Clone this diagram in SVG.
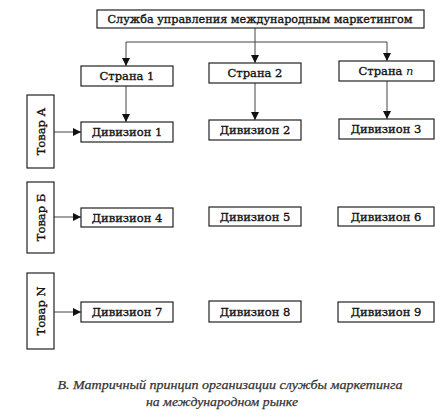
<svg xmlns="http://www.w3.org/2000/svg" width="443" height="417" viewBox="0 0 443 417">
<style>
.box{fill:#fff;stroke:#222;stroke-width:1.2}
.t{font-family:"DejaVu Serif","Liberation Serif",serif;font-size:11.5px;font-weight:normal;fill:#111;text-anchor:middle;stroke:#111;stroke-width:0.35}
.c{stroke:#444;stroke-width:1;fill:none}
.cap{font-family:"Liberation Serif","DejaVu Serif",serif;font-size:13.5px;font-style:italic;fill:#333;text-anchor:middle;stroke:#333;stroke-width:0.25}
</style>
<defs>
<marker id="ah" viewBox="0 0 10 10" refX="10" refY="5" markerWidth="8" markerHeight="8" markerUnits="userSpaceOnUse" orient="auto">
<path d="M0,0 L10,5 L0,10 Z" fill="#111"/>
</marker>
</defs>
<rect width="443" height="417" fill="#fff"/>
<g id="connectors">
<path class="c" d="M255,28 V42"/>
<path class="c" d="M126,42 H387"/>
<path class="c" d="M126,42 V66" marker-end="url(#ah)"/>
<path class="c" d="M255,42 V63" marker-end="url(#ah)"/>
<path class="c" d="M387,42 V61" marker-end="url(#ah)"/>
<path class="c" d="M126,86 V122" marker-end="url(#ah)"/>
<path class="c" d="M255,83 V120" marker-end="url(#ah)"/>
<path class="c" d="M387,81 V119" marker-end="url(#ah)"/>
<path class="c" d="M54,132 H81" marker-end="url(#ah)"/>
<path class="c" d="M54,217 H81" marker-end="url(#ah)"/>
<path class="c" d="M54,312 H81" marker-end="url(#ah)"/>
</g>
<g id="top"><rect class="box" x="97" y="10" width="327" height="18"/><text class="t" x="260" y="23" textLength="305" lengthAdjust="spacingAndGlyphs">Служба управления международным маркетингом</text></g>
<g id="strana1"><rect class="box" x="81" y="66" width="92" height="20"/><text class="t" x="127" y="80">Страна 1</text></g>
<g id="strana2"><rect class="box" x="209" y="63" width="92" height="20"/><text class="t" x="255" y="77">Страна 2</text></g>
<g id="stranan"><rect class="box" x="339" y="61" width="95" height="20"/><text class="t" x="386" y="75">Страна <tspan font-style="italic" stroke-width="0">n</tspan></text></g>
<g id="tovarA"><rect class="box" x="27" y="95" width="27" height="73"/><text class="t" transform="translate(44.5,131.5) rotate(-90)">Товар А</text></g>
<g id="tovarB"><rect class="box" x="27" y="182" width="27" height="71"/><text class="t" transform="translate(44.5,217.5) rotate(-90)">Товар Б</text></g>
<g id="tovarN"><rect class="box" x="27" y="273" width="27" height="76"/><text class="t" transform="translate(44.5,311) rotate(-90)">Товар N</text></g>
<g id="div1"><rect class="box" x="81" y="122" width="92" height="20"/><text class="t" x="127" y="136">Дивизион 1</text></g>
<g id="div2"><rect class="box" x="209" y="120" width="92" height="20"/><text class="t" x="255" y="134">Дивизион 2</text></g>
<g id="div3"><rect class="box" x="339" y="119" width="95" height="20"/><text class="t" x="386" y="133">Дивизион 3</text></g>
<g id="div4"><rect class="box" x="81" y="208" width="92" height="19"/><text class="t" x="127" y="221.5">Дивизион 4</text></g>
<g id="div5"><rect class="box" x="209" y="207" width="92" height="19"/><text class="t" x="255" y="220.5">Дивизион 5</text></g>
<g id="div6"><rect class="box" x="338" y="207" width="96" height="19"/><text class="t" x="386" y="220.5">Дивизион 6</text></g>
<g id="div7"><rect class="box" x="81" y="302" width="92" height="20"/><text class="t" x="127" y="316">Дивизион 7</text></g>
<g id="div8"><rect class="box" x="209" y="301" width="92" height="21"/><text class="t" x="255" y="315.5">Дивизион 8</text></g>
<g id="div9"><rect class="box" x="338" y="302" width="96" height="20"/><text class="t" x="386" y="316">Дивизион 9</text></g>
<g id="caption">
<text class="cap" x="230" y="389" textLength="345" lengthAdjust="spacingAndGlyphs">В. Матричный  принцип организации службы маркетинга</text>
<text class="cap" x="222" y="406" textLength="152" lengthAdjust="spacingAndGlyphs">на международном рынке</text>
</g>
</svg>
